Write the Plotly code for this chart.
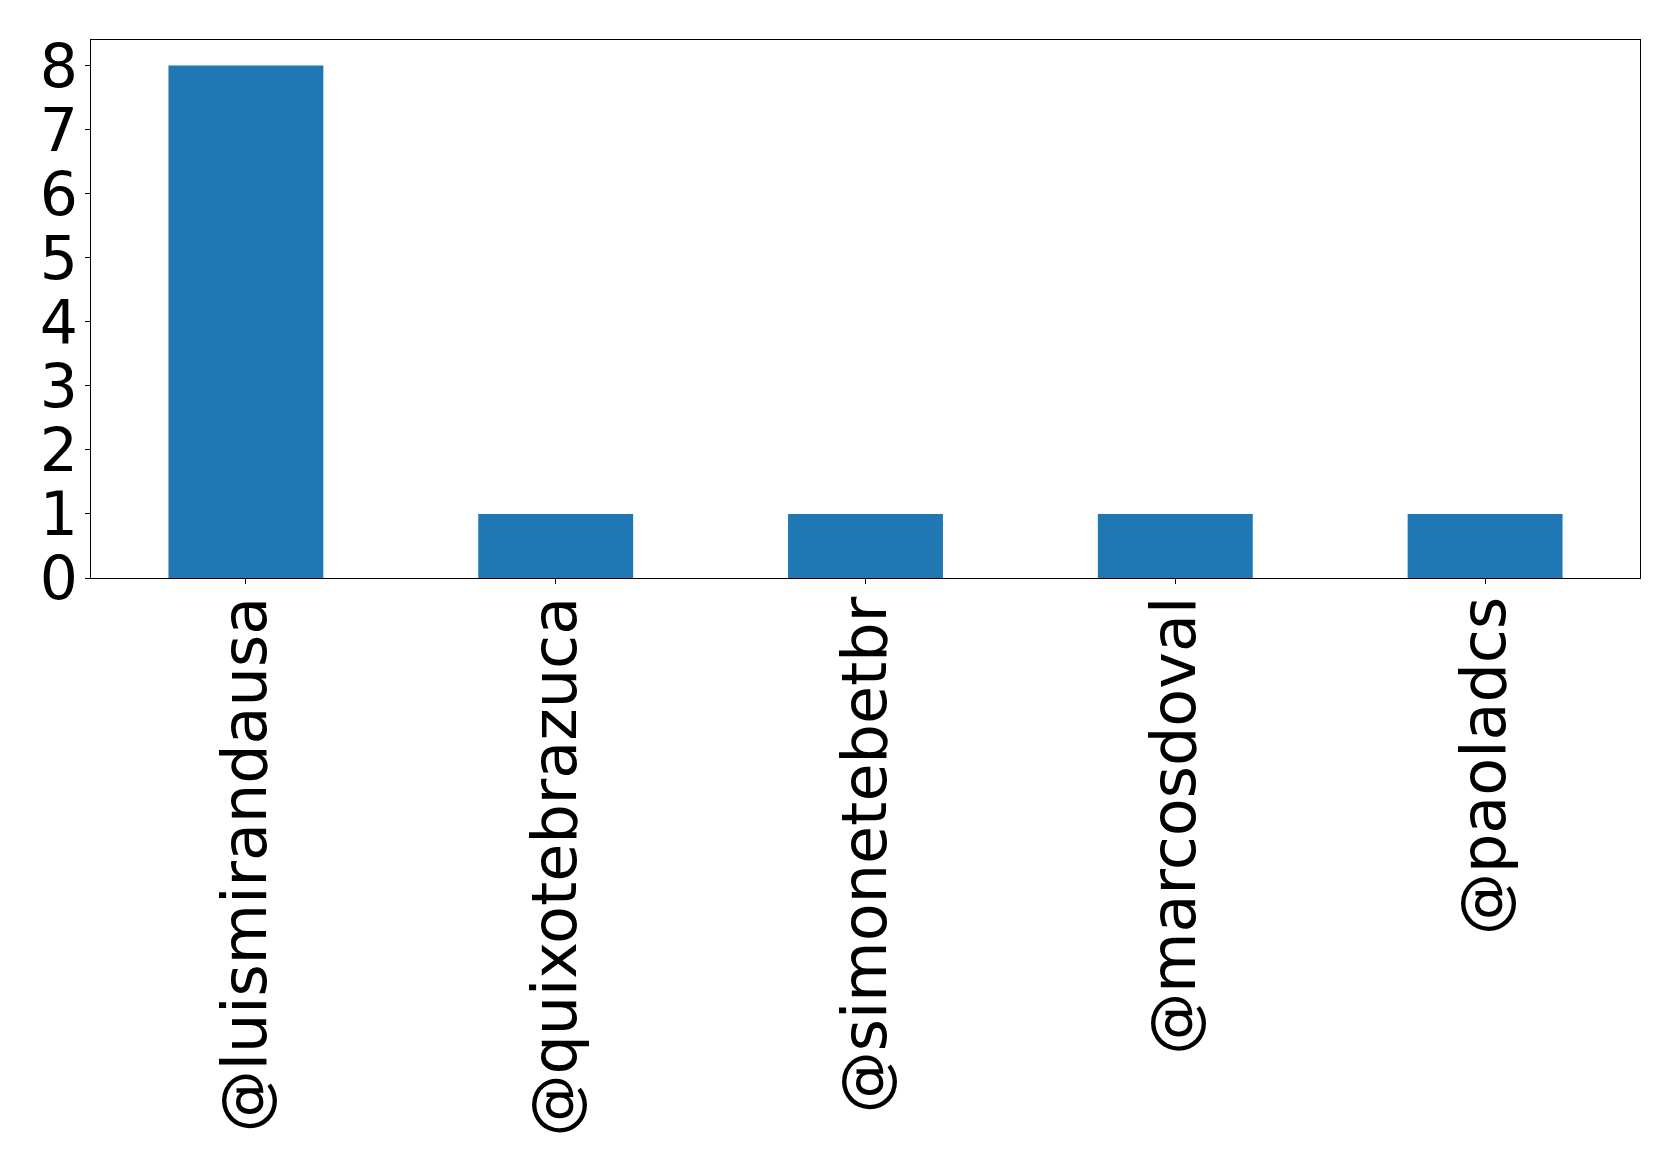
import plotly.graph_objects as go

users = ["@luismirandausa", "@quixotebrazuca", "@simonetebetbr", "@marcosdoval", "@paoladcs"]
counts = [8, 1, 1, 1, 1]
y_ticks = [0, 1, 2, 3, 4, 5, 6, 7, 8]

fig = go.Figure(go.Bar(x=users, y=counts, marker=dict(color="#1f77b4", line=dict(width=0)), width=0.5))

font = dict(family="DejaVu Sans", size=60, color="black")
xfont = dict(family="DejaVu Sans", size=62, color="black")
fig.update_layout(
    width=1679, height=1172,
    margin=dict(l=83, r=47, t=32, b=602),
    paper_bgcolor="white", plot_bgcolor="white",
    showlegend=False,
    font=font,
)
fig.update_xaxes(
    type="category", range=[-0.5, 4.5], tickangle=-90,
    showline=True, linecolor="black", linewidth=1, mirror=True,
    ticks="outside", ticklen=5, tickcolor="black", tickwidth=1,
    showgrid=False, zeroline=False, tickfont=xfont, automargin=False,
    ticklabelstandoff=-12,
)
fig.update_yaxes(
    range=[0, 8.4], tickvals=y_ticks, ticktext=[str(v) for v in y_ticks],
    showline=True, linecolor="black", linewidth=1, mirror=True,
    ticks="outside", ticklen=5, tickcolor="black", tickwidth=1,
    showgrid=False, zeroline=False, tickfont=font, automargin=False,
    ticklabelstandoff=-5,
)
fig.write_html("out.html")
